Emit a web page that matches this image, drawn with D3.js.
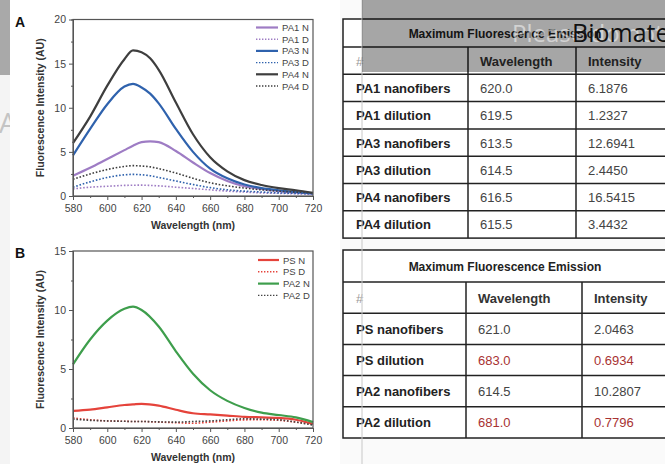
<!DOCTYPE html>
<html>
<head>
<meta charset="utf-8">
<script src="https://cdn.jsdelivr.net/npm/d3@7"></script>
<style>
body { margin: 0; background: #fafafa; }
svg { display: block; font-family: "Liberation Sans", Arial, sans-serif; }
</style>
</head>
<body>
<script>
// spectra (wavelength nm, intensity AU)
var wlA = [580, 590, 600, 610, 615, 620, 625, 630, 640, 650, 660, 670, 680, 690, 700, 710, 720];
var pa1N = [2.3, 3.2, 4.2, 5.2, 5.7, 6.1, 6.2, 6.1, 5.1, 3.8, 2.6, 1.7, 1.1, 0.8, 0.55, 0.4, 0.3];
var pa1D = [0.8, 1.0, 1.1, 1.2, 1.22, 1.23, 1.2, 1.15, 1.0, 0.85, 0.7, 0.55, 0.45, 0.35, 0.3, 0.25, 0.2];
var pa3N = [4.6, 7.6, 10.4, 12.4, 12.7, 12.3, 11.6, 10.5, 7.6, 5.0, 3.1, 2.0, 1.3, 0.9, 0.65, 0.45, 0.3];
var pa3D = [1.0, 1.6, 2.1, 2.4, 2.45, 2.4, 2.3, 2.1, 1.7, 1.3, 0.95, 0.7, 0.55, 0.45, 0.35, 0.3, 0.25];
var pa4N = [6.0, 9.0, 12.5, 15.5, 16.5, 16.3, 15.6, 14.3, 10.6, 7.0, 4.4, 2.8, 1.8, 1.25, 0.9, 0.65, 0.35];
var pa4D = [1.9, 2.5, 3.0, 3.35, 3.44, 3.4, 3.3, 3.1, 2.6, 2.0, 1.5, 1.15, 0.9, 0.7, 0.55, 0.45, 0.35];

var wlB = [580, 590, 600, 610, 615, 620, 630, 640, 650, 660, 670, 680, 690, 700, 710, 720];
var psN = [1.45, 1.55, 1.75, 1.95, 2.0, 2.05, 1.9, 1.55, 1.25, 1.15, 1.05, 0.95, 0.9, 0.85, 0.7, 0.35];
var psD = [0.85, 0.7, 0.6, 0.57, 0.55, 0.55, 0.5, 0.45, 0.4, 0.5, 0.6, 0.69, 0.7, 0.65, 0.5, 0.3];
var pa2N = [5.4, 7.5, 9.1, 10.1, 10.28, 10.0, 8.6, 6.5, 4.6, 3.2, 2.3, 1.7, 1.3, 1.1, 0.9, 0.5];
var pa2D = [0.75, 0.65, 0.6, 0.57, 0.55, 0.55, 0.52, 0.5, 0.55, 0.6, 0.7, 0.78, 0.75, 0.7, 0.5, 0.25];

var xTicks = [580, 600, 620, 640, 660, 680, 700, 720];
var yTicksA = [0, 5, 10, 15, 20];
var yTicksB = [0, 5, 10, 15];

// tables
var tableTitle = "Maximum Fluorescence Emission";
var tableHead = ["#", "Wavelength", "Intensity"];
var rowsA = ["PA1 nanofibers", "PA1 dilution", "PA3 nanofibers", "PA3 dilution", "PA4 nanofibers", "PA4 dilution"];
var waveA = ["620.0", "619.5", "613.5", "614.5", "616.5", "615.5"];
var intA = ["6.1876", "1.2327", "12.6941", "2.4450", "16.5415", "3.4432"];
var rowsB = ["PS nanofibers", "PS dilution", "PA2 nanofibers", "PA2 dilution"];
var waveB = ["621.0", "683.0", "614.5", "681.0"];
var intB = ["2.0463", "0.6934", "10.2807", "0.7796"];
var flaggedB = [false, true, false, true];

var svg = d3.select("body").append("svg")
    .attr("width", 665)
    .attr("height", 464);

// left strip of the screenshot, with a faded letter that the panel covers
svg.append("rect").attr("x", 0).attr("y", 75).attr("width", 10).attr("height", 389).attr("fill", "#f4f4f4");
svg.append("text").text("A").attr("x", -1).attr("y", 133)
    .attr("font-size", 28).attr("fill", "#c4c4c4").attr("font-family", "Open Sans, sans-serif");

// white panel behind the plots
svg.append("rect").attr("x", 10).attr("y", 0).attr("width", 330).attr("height", 464).attr("fill", "#fff");

function drawPlot(top, bottom, yMax, yTicks, series, label, legendX, legendTextX, legendY0, legendStep) {
    var x = d3.scaleLinear().domain([580, 720]).range([73, 313]);
    var y = d3.scaleLinear().domain([0, yMax]).range([bottom, top]);
    var g = svg.append("g");

    var line = d3.line()
        .x(function (d) { return x(d[0]); })
        .y(function (d) { return y(d[1]); })
        .curve(d3.curveMonotoneX);

    series.forEach(function (s) {
        g.append("path")
            .datum(d3.zip(s.wl, s.values))
            .attr("d", line)
            .attr("fill", "none")
            .attr("stroke", s.color)
            .attr("stroke-width", s.dash ? 1.6 : 2.2)
            .attr("stroke-dasharray", s.dash ? "1.6,1.8" : null);
    });

    // frame
    g.append("rect")
        .attr("x", x(580)).attr("y", y(yMax))
        .attr("width", x(720) - x(580)).attr("height", y(0) - y(yMax))
        .attr("fill", "none").attr("stroke", "#555").attr("stroke-width", 1.2);

    var xAxis = g.append("g").attr("transform", "translate(0," + bottom + ")")
        .call(d3.axisBottom(x).tickValues(xTicks).tickSize(4).tickSizeOuter(0));
    g.append("g").attr("transform", "translate(0," + bottom + ")")
        .call(d3.axisBottom(x).tickValues(d3.range(590, 720, 20)).tickSize(2).tickFormat(""));
    var yAxis = g.append("g").attr("transform", "translate(73,0)")
        .call(d3.axisLeft(y).tickValues(yTicks).tickSize(4).tickSizeOuter(0));
    g.append("g").attr("transform", "translate(73,0)")
        .call(d3.axisLeft(y).tickValues(d3.range(2.5, yMax, 5)).tickSize(2).tickFormat(""));

    g.selectAll(".domain").attr("stroke", "#555");
    g.selectAll(".tick line").attr("stroke", "#555");
    xAxis.selectAll("text").attr("font-size", 10.5).attr("fill", "#444").attr("font-family", "Liberation Sans, Arial").attr("dy", "0.85em");
    yAxis.selectAll("text").attr("font-size", 10.5).attr("fill", "#444").attr("font-family", "Liberation Sans, Arial");

    g.append("text").text("Wavelength (nm)")
        .attr("x", 193).attr("y", bottom + 33)
        .attr("text-anchor", "middle").attr("font-size", 10.5).attr("font-weight", "bold").attr("fill", "#333");
    g.append("text").text("Fluorescence Intensity (AU)")
        .attr("transform", "translate(44," + ((top + bottom) / 2) + ") rotate(-90)")
        .attr("text-anchor", "middle").attr("font-size", 10.5).attr("font-weight", "bold").attr("fill", "#333");
    g.append("text").text(label)
        .attr("x", 15).attr("y", top + 7)
        .attr("font-size", 14).attr("font-weight", "bold").attr("fill", "#111");

    // legend
    var leg = g.selectAll(".leg").data(series).enter().append("g")
        .attr("transform", function (d, i) { return "translate(0," + (legendY0 + i * legendStep) + ")"; });
    leg.append("line")
        .attr("x1", legendX).attr("x2", legendTextX - 4)
        .attr("stroke", function (d) { return d.color; })
        .attr("stroke-width", function (d) { return d.dash ? 1.4 : 2.2; })
        .attr("stroke-dasharray", function (d) { return d.dash ? "1.4,1.6" : null; });
    leg.append("text").text(function (d) { return d.name; })
        .attr("x", legendTextX).attr("y", 3.5)
        .attr("font-size", 9.5).attr("fill", "#444");
}

drawPlot(19.5, 196, 20, yTicksA, [
    { name: "PA1 N", wl: wlA, values: pa1N, color: "#9e7cc4", dash: false },
    { name: "PA1 D", wl: wlA, values: pa1D, color: "#9e7cc4", dash: true },
    { name: "PA3 N", wl: wlA, values: pa3N, color: "#2f62ad", dash: false },
    { name: "PA3 D", wl: wlA, values: pa3D, color: "#2f62ad", dash: true },
    { name: "PA4 N", wl: wlA, values: pa4N, color: "#3e3e3e", dash: false },
    { name: "PA4 D", wl: wlA, values: pa4D, color: "#3e3e3e", dash: true }
], "A", 256, 282, 27.5, 11.7);

drawPlot(251, 428, 15, yTicksB, [
    { name: "PS N", wl: wlB, values: psN, color: "#e5433b", dash: false },
    { name: "PS D", wl: wlB, values: psD, color: "#e5433b", dash: true },
    { name: "PA2 N", wl: wlB, values: pa2N, color: "#3e9e4c", dash: false },
    { name: "PA2 D", wl: wlB, values: pa2D, color: "#444", dash: true }
], "B", 258, 283, 260, 11.8);

function drawTable(top, titleH, rowH, rows, waves, ints, flagged, colX) {
    var g = svg.append("g");
    var left = 343, right = 668;
    var yRow = d3.scaleBand().domain(d3.range(rows.length + 1)).range([top + titleH, top + titleH + rowH * (rows.length + 1)]);
    var bottom = top + titleH + rowH * (rows.length + 1);

    g.append("rect").attr("x", left).attr("y", top).attr("width", right - left).attr("height", bottom - top)
        .attr("fill", "#fff").attr("stroke", "#222").attr("stroke-width", 1.5);
    g.selectAll(".hl").data(d3.range(rows.length + 1)).enter().append("line")
        .attr("x1", left).attr("x2", right)
        .attr("y1", function (i) { return yRow(i); }).attr("y2", function (i) { return yRow(i); })
        .attr("stroke", "#222").attr("stroke-width", 1.5);
    g.selectAll(".vl").data(colX).enter().append("line")
        .attr("x1", function (d) { return d; }).attr("x2", function (d) { return d; })
        .attr("y1", top + titleH).attr("y2", bottom)
        .attr("stroke", "#222").attr("stroke-width", 1.5);

    g.append("text").text(tableTitle)
        .attr("x", 505).attr("y", top + titleH / 2 + 4.5)
        .attr("text-anchor", "middle").attr("font-size", 12).attr("font-weight", "bold").attr("fill", "#222");

    var textX = [356, colX[0] + 12, colX[1] + 12];
    tableHead.forEach(function (h, i) {
        g.append("text").text(h)
            .attr("x", textX[i]).attr("y", yRow(0) + rowH / 2 + 5)
            .attr("font-size", 13).attr("font-weight", i === 0 ? "normal" : "bold")
            .attr("fill", i === 0 ? "#999" : "#333");
    });
    rows.forEach(function (r, i) {
        var yy = yRow(i + 1) + rowH / 2 + 5;
        var col = flagged && flagged[i] ? "#a83232" : "#444";
        g.append("text").text(r).attr("x", textX[0]).attr("y", yy)
            .attr("font-size", 13).attr("font-weight", "bold").attr("fill", "#222");
        g.append("text").text(waves[i]).attr("x", textX[1]).attr("y", yy)
            .attr("font-size", 13).attr("fill", col);
        g.append("text").text(ints[i]).attr("x", textX[2]).attr("y", yy)
            .attr("font-size", 13).attr("fill", col);
    });
}

drawTable(19, 28, 27.3, rowsA, waveA, intA, null, [468, 576]);
drawTable(250, 32, 31.2, rowsB, waveB, intB, flaggedB, [466, 582]);

// screenshot overlays
svg.append("line").attr("x1", 362).attr("x2", 362).attr("y1", 0).attr("y2", 464)
    .attr("stroke", "#c8c8c8").attr("stroke-width", 1);
svg.append("rect").attr("x", 0).attr("y", 0).attr("width", 10).attr("height", 75).attr("fill", "#a9a9a9");
svg.append("rect").attr("x", 362).attr("y", 0).attr("width", 303).attr("height", 72)
    .attr("fill", "#000").attr("fill-opacity", 0.35);
svg.append("text").text("Please do not").attr("x", 512).attr("y", 42)
    .attr("font-size", 24).attr("fill", "#fff").attr("fill-opacity", 0.5).attr("font-family", "Open Sans, sans-serif");
svg.append("text").text("Biomaterials").attr("x", 572).attr("y", 42)
    .attr("font-size", 25).attr("fill", "#111").attr("font-family", "Open Sans, sans-serif");
</script>
</body>
</html>
